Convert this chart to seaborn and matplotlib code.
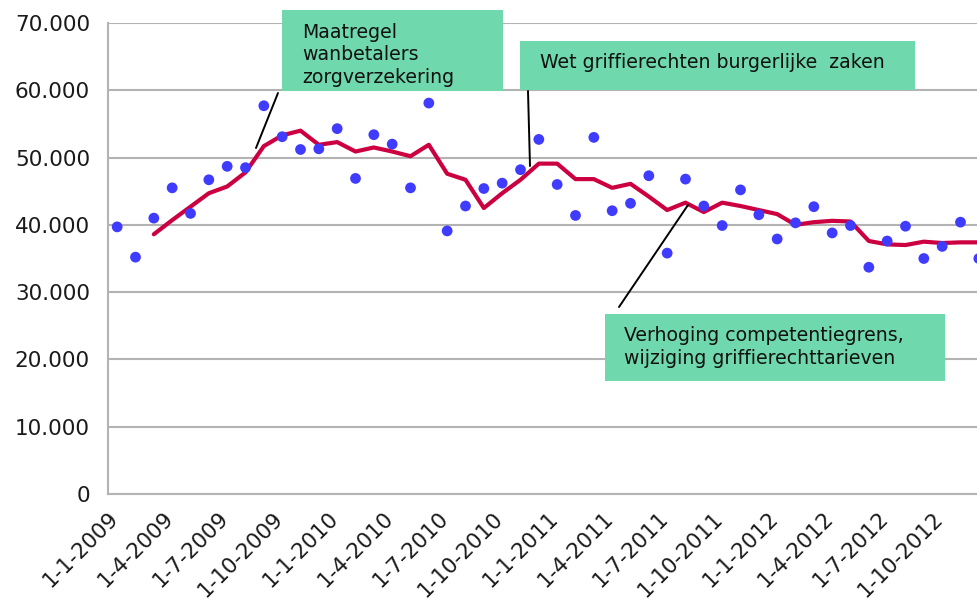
import numpy as np
import pandas as pd
import seaborn as sns
from matplotlib import pyplot as plt
from matplotlib import ticker as ticktools
from matplotlib.patches import Rectangle
from matplotlib.lines import Line2D

# monthly counts, jan 2009 - dec 2012
counts = [39700, 35200, 41000, 45500, 41700, 46700, 48700, 48500, 57700, 53100, 51200, 51300,
          54300, 46900, 53400, 52000, 45500, 58100, 39100, 42800, 45400, 46200, 48200, 52700,
          46000, 41400, 53000, 42100, 43200, 47300, 35800, 46800, 42800, 39900, 45200, 41500,
          37900, 40300, 42700, 38800, 39900, 33700, 37600, 39800, 35000, 36800, 40400, 35000]

# trend line (3 month average), starts at march 2009
trend = [None, None, 38600, 40700, 42700, 44700, 45700, 47800, 51700, 53300, 54000, 51900,
         52300, 50900, 51500, 50900, 50200, 51900, 47600, 46700, 42500, 44700, 46700, 49100,
         49100, 46800, 46800, 45500, 46100, 44200, 42200, 43300, 41900, 43300, 42800, 42200,
         41600, 40000, 40400, 40600, 40500, 37600, 37100, 37000, 37500, 37300, 37400, 37400]

tick_labels = ["1-1-2009", "1-4-2009", "1-7-2009", "1-10-2009",
               "1-1-2010", "1-4-2010", "1-7-2010", "1-10-2010",
               "1-1-2011", "1-4-2011", "1-7-2011", "1-10-2011",
               "1-1-2012", "1-4-2012", "1-7-2012", "1-10-2012"]

notes = ["Maatregel\nwanbetalers\nzorgverzekering",
         "Wet griffierechten burgerlijke  zaken",
         "Verhoging competentiegrens,\nwijziging griffierechttarieven"]

W, H = 977, 602
GREEN = "#6fd8ad"
GRID = "#b3b3b3"

df = pd.DataFrame({"pos": np.arange(len(counts)) + 0.5, "count": counts,
                   "trend": pd.array(trend, dtype="Float64")})

sns.set_style("white")
plt.rcParams['font.family'] = ['DejaVu Sans']

fig = plt.figure(figsize=(W / 100, H / 100), dpi=100)
# plot area in pixels: left 108, right 988 (runs past the image), top 23, bottom 494
ax = fig.add_axes([108 / W, (H - 494) / H, 880 / W, 471 / H])

sns.lineplot(x="pos", y="trend", data=df.dropna(), color="#cc0040", lw=3, ax=ax, zorder=3)
sns.scatterplot(x="pos", y="count", data=df, color="#3f3bff", s=60, edgecolor="none",
                ax=ax, zorder=4)

ax.set_xlim(0, 48)
ax.set_ylim(0, 70000)
ax.yaxis.set_major_locator(ticktools.MultipleLocator(10000))
ax.yaxis.set_major_formatter(ticktools.FuncFormatter(lambda v, p: f"{int(v):,}".replace(",", ".")))
ax.set_xticks(np.arange(len(tick_labels)) * 3)
ax.set_xticklabels(tick_labels, rotation=45, ha="right", rotation_mode="anchor")
ax.set_xlabel("")
ax.set_ylabel("")

ax.grid(axis="y", color=GRID, lw=1.5)
ax.set_axisbelow(True)
for side in ["top", "right"]:
    ax.spines[side].set_visible(False)
for side in ["left", "bottom"]:
    ax.spines[side].set_color(GRID)
    ax.spines[side].set_linewidth(1.5)
ax.tick_params(axis="both", length=6, width=1.5, color=GRID, labelsize=15.5, colors="#1a1a1a")
ax.tick_params(axis="y", pad=7)
ax.tick_params(axis="x", pad=4)


def fx(x):
    return x / W


def fy(y):
    return 1 - y / H


# callout boxes (pixel boxes: left, top, right, bottom)
boxes = [(282, 10, 503, 91), (520, 41, 915, 90), (605, 314, 945, 381)]
text_pos = [(302, 55), (540, 62), (624, 347)]
leaders = [((256, 148), (278, 93)), ((528, 91), (530, 166)), ((619, 307), (688, 205))]

for (x0, y0, x1, y1), (tx, ty), ((lx0, ly0), (lx1, ly1)), note in zip(boxes, text_pos, leaders, notes):
    fig.add_artist(Line2D([fx(lx0), fx(lx1)], [fy(ly0), fy(ly1)], color="black", lw=1.4,
                          transform=fig.transFigure, zorder=5))
    fig.add_artist(Rectangle((fx(x0), fy(y1)), fx(x1 - x0), (y1 - y0) / H, facecolor=GREEN,
                             edgecolor="none", transform=fig.transFigure, zorder=6))
    fig.text(fx(tx), fy(ty), note, ha="left", va="center", fontsize=13.6, color="#111111",
             linespacing=1.25, zorder=7)

fig.savefig("out.png", dpi=100)
